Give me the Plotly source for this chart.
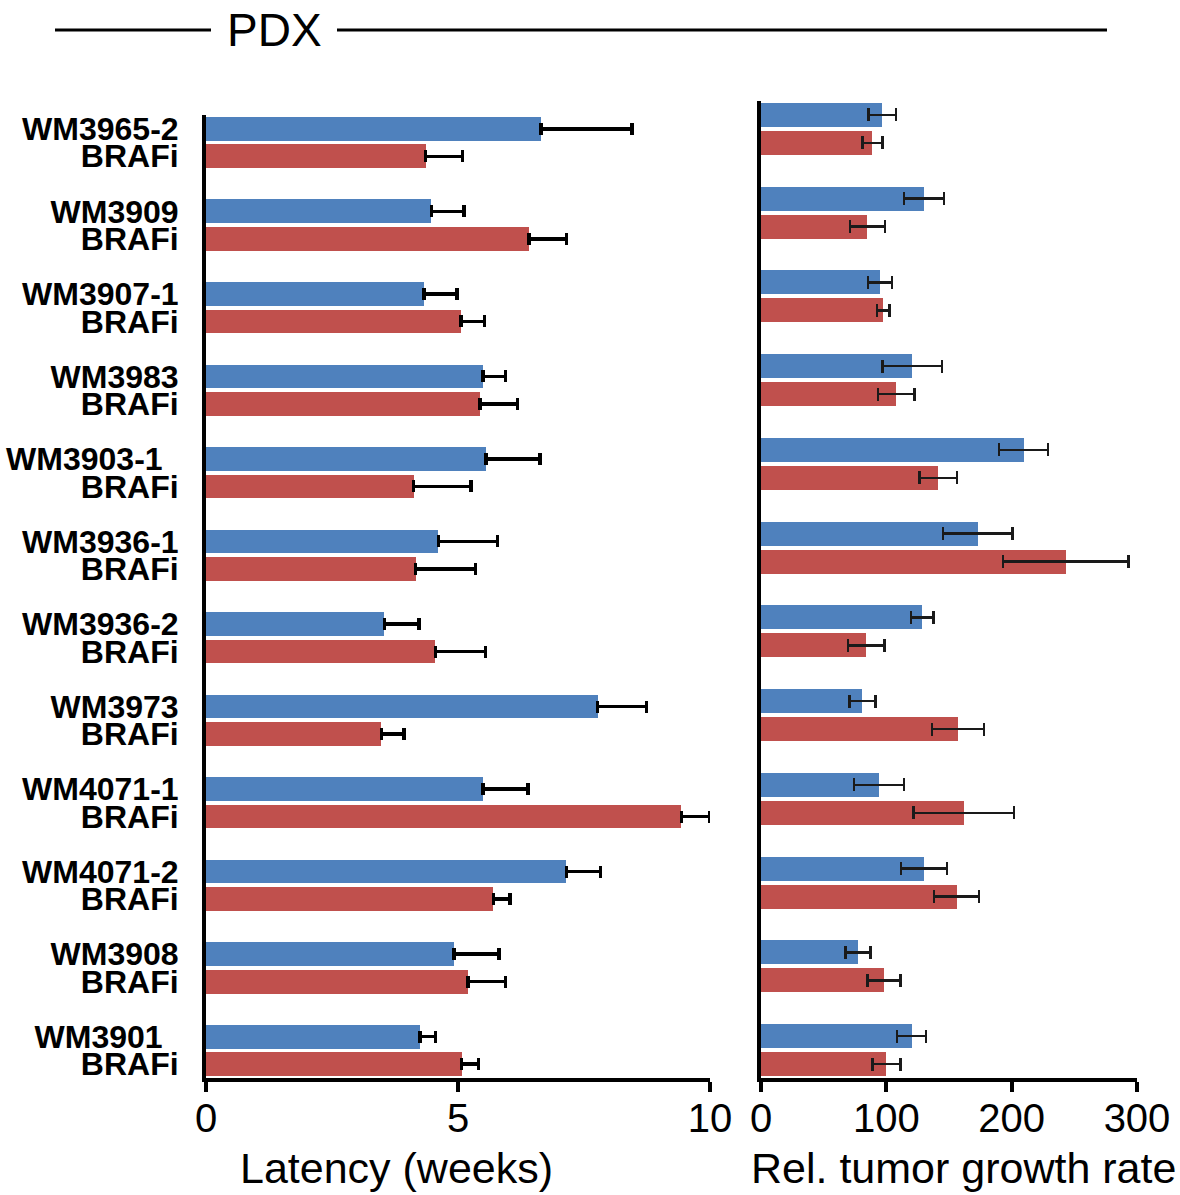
import plotly.graph_objects as go

groups = ["WM3965-2", "WM3909", "WM3907-1", "WM3983", "WM3903-1", "WM3936-1",
          "WM3936-2", "WM3973", "WM4071-1", "WM4071-2", "WM3908", "WM3901"]
treated_label = "BRAFi"

latency_ctrl = [6.65, 4.47, 4.33, 5.50, 5.56, 4.61, 3.54, 7.77, 5.50, 7.15, 4.92, 4.25]
latency_ctrl_err = [1.80, 0.65, 0.65, 0.44, 1.07, 1.17, 0.69, 0.97, 0.89, 0.68, 0.89, 0.30]
latency_brafi = [4.36, 6.41, 5.06, 5.44, 4.12, 4.16, 4.55, 3.48, 9.43, 5.70, 5.20, 5.07]
latency_brafi_err = [0.73, 0.74, 0.47, 0.74, 1.14, 1.19, 1.00, 0.45, 0.57, 0.33, 0.74, 0.34]

growth_ctrl = [96.8, 130, 95, 120.7, 209.5, 173, 128.6, 80.9, 94.2, 130, 77.5, 120.2]
growth_ctrl_err = [11, 16, 9.5, 23.6, 19.5, 27.7, 9, 10.3, 20, 18.5, 10, 11.6]
growth_brafi = [88.9, 84.9, 97.6, 108, 141.4, 243.2, 84, 157.3, 161.8, 156, 98.1, 100]
growth_brafi_err = [8, 14, 5, 14.5, 15, 50, 14.5, 20.7, 40, 18, 13, 11.2]

latency_ticks = [0, 5, 10]
growth_ticks = [0, 100, 200, 300]

BLUE = "#4F81BD"
RED = "#C0504D"
FONT = "Liberation Sans, Arial, sans-serif"

W, H = 1180, 1195
n = len(groups)
pos_ctrl = [3 * i for i in range(n)]
pos_brafi = [3 * i + 1 for i in range(n)]

tickvals, ticktext = [], []
for i, g in enumerate(groups):
    tickvals += [pos_ctrl[i], pos_brafi[i]]
    lab = g
    if g in ("WM3903-1", "WM3901"):
        lab = g + "\u2002"
    ticktext += [lab, treated_label]

def px_x(p):
    return p / W

def px_y(p):
    return 1 - p / H

fig = go.Figure()
bw = 0.86

fig.add_trace(go.Bar(x=latency_ctrl, y=pos_ctrl, orientation="h", width=bw,
                     marker=dict(color=BLUE, line=dict(width=0)),
                     error_x=dict(type="data", array=latency_ctrl_err, arrayminus=[0] * n,
                                  symmetric=False, color="black", thickness=3.5, width=6),
                     xaxis="x", yaxis="y", showlegend=False))
fig.add_trace(go.Bar(x=latency_brafi, y=pos_brafi, orientation="h", width=bw,
                     marker=dict(color=RED, line=dict(width=0)),
                     error_x=dict(type="data", array=latency_brafi_err, arrayminus=[0] * n,
                                  symmetric=False, color="black", thickness=3.5, width=6),
                     xaxis="x", yaxis="y", showlegend=False))
fig.add_trace(go.Bar(x=growth_ctrl, y=pos_ctrl, orientation="h", width=bw,
                     marker=dict(color=BLUE, line=dict(width=0)),
                     error_x=dict(type="data", array=growth_ctrl_err, color="#1a1a1a",
                                  thickness=2.5, width=6.5),
                     xaxis="x2", yaxis="y2", showlegend=False))
fig.add_trace(go.Bar(x=growth_brafi, y=pos_brafi, orientation="h", width=bw,
                     marker=dict(color=RED, line=dict(width=0)),
                     error_x=dict(type="data", array=growth_brafi_err, color="#1a1a1a",
                                  thickness=2.5, width=6.5),
                     xaxis="x2", yaxis="y2", showlegend=False))

axis_common = dict(showgrid=False, zeroline=False, showline=True, linecolor="black",
                   linewidth=4, automargin=False)

fig.update_layout(
    width=W, height=H,
    margin=dict(l=0, r=0, t=0, b=0),
    paper_bgcolor="white", plot_bgcolor="white",
    font=dict(family=FONT, color="black"),
    bargap=0,
    xaxis=dict(domain=[px_x(206), px_x(710)], range=[0, 10], tickvals=latency_ticks,
               ticks="outside", ticklen=10, tickwidth=4, tickcolor="black",
               ticklabelstandoff=-8,
               tickfont=dict(size=40, family=FONT), anchor="y", **axis_common),
    yaxis=dict(domain=[px_y(1078), px_y(115)], range=[34.5, -0.5],
               tickvals=tickvals, ticktext=ticktext, ticks="", ticklabelstandoff=17,
               tickfont=dict(size=32, family=FONT, weight=700), anchor="x", **axis_common),
    xaxis2=dict(domain=[px_x(761), px_x(1137)], range=[0, 300], tickvals=growth_ticks,
                ticks="outside", ticklen=10, tickwidth=4, tickcolor="black",
                ticklabelstandoff=-8,
                tickfont=dict(size=40, family=FONT), anchor="y2", **axis_common),
    yaxis2=dict(domain=[px_y(1078), px_y(101)], range=[34.5, -0.5],
                showticklabels=False, ticks="", anchor="x2", **axis_common),
)

fig.add_annotation(text="PDX", x=px_x(274), y=px_y(30), xref="paper", yref="paper",
                   showarrow=False, font=dict(size=46, family=FONT), xanchor="center", yanchor="middle")
fig.add_annotation(text="Latency (weeks)", x=px_x(396), y=px_y(1168), xref="paper", yref="paper",
                   showarrow=False, font=dict(size=43, family=FONT), xanchor="center", yanchor="middle")
fig.add_annotation(text="Rel. tumor growth rate", x=px_x(963), y=px_y(1168), xref="paper", yref="paper",
                   showarrow=False, font=dict(size=43, family=FONT), xanchor="center", yanchor="middle")

for x0, x1 in [(55, 211), (337, 1107)]:
    fig.add_shape(type="line", xref="paper", yref="paper", x0=px_x(x0), x1=px_x(x1),
                  y0=px_y(30), y1=px_y(30), line=dict(color="black", width=3))

fig.write_html("out.html",
               config={"displayModeBar": False},
               post_script="document.body.style.margin='0';document.body.style.padding='0';"
                           "document.documentElement.style.overflow='hidden';")
